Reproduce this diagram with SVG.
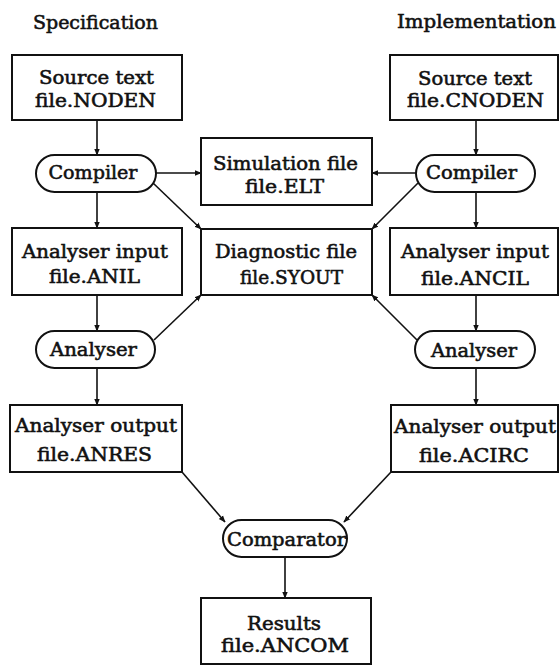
<svg xmlns="http://www.w3.org/2000/svg" width="559" height="666" viewBox="0 0 559 666">
<defs>
<marker id="ah" viewBox="0 0 10 10" refX="9" refY="5" markerWidth="7" markerHeight="7" markerUnits="userSpaceOnUse" orient="auto">
<path d="M0,1 L10,5 L0,9 z" fill="#111"/>
</marker>
<style>
.box{fill:#fff;stroke:#111;stroke-width:2}
.h{font-family:"DejaVu Serif","Liberation Serif",serif;font-size:18px;fill:#111;stroke:#111;stroke-width:0.55;text-anchor:middle}
.c{fill:none;stroke:#111;stroke-width:1.6;marker-end:url(#ah)}
</style>
</defs>
<rect width="559" height="666" fill="#fff"/>
<text class="h" x="95.5" y="29" textLength="125" lengthAdjust="spacingAndGlyphs">Specification</text>
<text class="h" x="476.5" y="28" textLength="159" lengthAdjust="spacingAndGlyphs">Implementation</text>
<g id="connectors">
<line class="c" x1="97" y1="120" x2="97" y2="155"/>
<line class="c" x1="97" y1="192" x2="97" y2="228"/>
<line class="c" x1="97" y1="295" x2="97" y2="331"/>
<line class="c" x1="97" y1="368" x2="97" y2="405"/>
<line class="c" x1="476" y1="120" x2="476" y2="155"/>
<line class="c" x1="476" y1="192" x2="476" y2="228"/>
<line class="c" x1="476" y1="295" x2="476" y2="331"/>
<line class="c" x1="476" y1="368" x2="476" y2="405"/>
<line class="c" x1="156" y1="173" x2="201" y2="173"/>
<line class="c" x1="416" y1="173" x2="372" y2="173"/>
<line class="c" x1="153" y1="183" x2="201" y2="229"/>
<line class="c" x1="418" y1="183" x2="372" y2="229"/>
<line class="c" x1="154" y1="340" x2="201" y2="295"/>
<line class="c" x1="417" y1="340" x2="372" y2="295"/>
<line class="c" x1="182" y1="472" x2="225" y2="522"/>
<line class="c" x1="391" y1="472" x2="344" y2="522"/>
<line class="c" x1="285" y1="557" x2="285" y2="598"/>
</g>
<g id="src-spec">
<rect class="box" x="12" y="55" width="170" height="65"/>
<text class="h" x="96.5" y="84" textLength="115" lengthAdjust="spacingAndGlyphs">Source text</text>
<text class="h" x="95.5" y="107" textLength="121" lengthAdjust="spacingAndGlyphs">file.NODEN</text>
</g>
<g id="src-impl">
<rect class="box" x="390" y="55" width="168" height="65"/>
<text class="h" x="475" y="85" textLength="114" lengthAdjust="spacingAndGlyphs">Source text</text>
<text class="h" x="475.5" y="107" textLength="137" lengthAdjust="spacingAndGlyphs">file.CNODEN</text>
</g>
<g id="compiler-spec">
<rect class="box" x="36" y="155" width="120" height="37" rx="18.5"/>
<text class="h" x="93" y="179" textLength="89" lengthAdjust="spacingAndGlyphs">Compiler</text>
</g>
<g id="compiler-impl">
<rect class="box" x="416" y="155" width="119" height="37" rx="18.5"/>
<text class="h" x="471.5" y="179" textLength="91" lengthAdjust="spacingAndGlyphs">Compiler</text>
</g>
<g id="simulation">
<rect class="box" x="201" y="138" width="171" height="67"/>
<text class="h" x="285.5" y="170" textLength="145" lengthAdjust="spacingAndGlyphs">Simulation file</text>
<text class="h" x="284.5" y="193" textLength="79" lengthAdjust="spacingAndGlyphs">file.ELT</text>
</g>
<g id="anin-spec">
<rect class="box" x="12" y="228" width="170" height="67"/>
<text class="h" x="95" y="258" textLength="146" lengthAdjust="spacingAndGlyphs">Analyser input</text>
<text class="h" x="94.5" y="283" textLength="91" lengthAdjust="spacingAndGlyphs">file.ANIL</text>
</g>
<g id="diagnostic">
<rect class="box" x="201" y="229" width="171" height="66"/>
<text class="h" x="286" y="258" textLength="142" lengthAdjust="spacingAndGlyphs">Diagnostic file</text>
<text class="h" x="291.5" y="284" textLength="103" lengthAdjust="spacingAndGlyphs">file.SYOUT</text>
</g>
<g id="anin-impl">
<rect class="box" x="390" y="228" width="168" height="67"/>
<text class="h" x="475" y="258" textLength="148" lengthAdjust="spacingAndGlyphs">Analyser input</text>
<text class="h" x="475" y="285" textLength="108" lengthAdjust="spacingAndGlyphs">file.ANCIL</text>
</g>
<g id="analyser-spec">
<rect class="box" x="36" y="331" width="119" height="37" rx="18.5"/>
<text class="h" x="93.5" y="356" textLength="87" lengthAdjust="spacingAndGlyphs">Analyser</text>
</g>
<g id="analyser-impl">
<rect class="box" x="415" y="331" width="120" height="37" rx="18.5"/>
<text class="h" x="474" y="357" textLength="86" lengthAdjust="spacingAndGlyphs">Analyser</text>
</g>
<g id="anout-spec">
<rect class="box" x="10" y="405" width="172" height="67"/>
<text class="h" x="96" y="432" textLength="162" lengthAdjust="spacingAndGlyphs">Analyser output</text>
<text class="h" x="94.5" y="461" textLength="115" lengthAdjust="spacingAndGlyphs">file.ANRES</text>
</g>
<g id="anout-impl">
<rect class="box" x="391" y="405" width="167" height="67"/>
<text class="h" x="475" y="433" textLength="162" lengthAdjust="spacingAndGlyphs">Analyser output</text>
<text class="h" x="474" y="462" textLength="110" lengthAdjust="spacingAndGlyphs">file.ACIRC</text>
</g>
<g id="comparator">
<rect class="box" x="223" y="520" width="124" height="37" rx="18.5"/>
<text class="h" x="286.5" y="546" textLength="119" lengthAdjust="spacingAndGlyphs">Comparator</text>
</g>
<g id="results">
<rect class="box" x="201" y="598" width="170" height="66"/>
<text class="h" x="284" y="630" textLength="74" lengthAdjust="spacingAndGlyphs">Results</text>
<text class="h" x="285" y="652" textLength="128" lengthAdjust="spacingAndGlyphs">file.ANCOM</text>
</g>
</svg>
